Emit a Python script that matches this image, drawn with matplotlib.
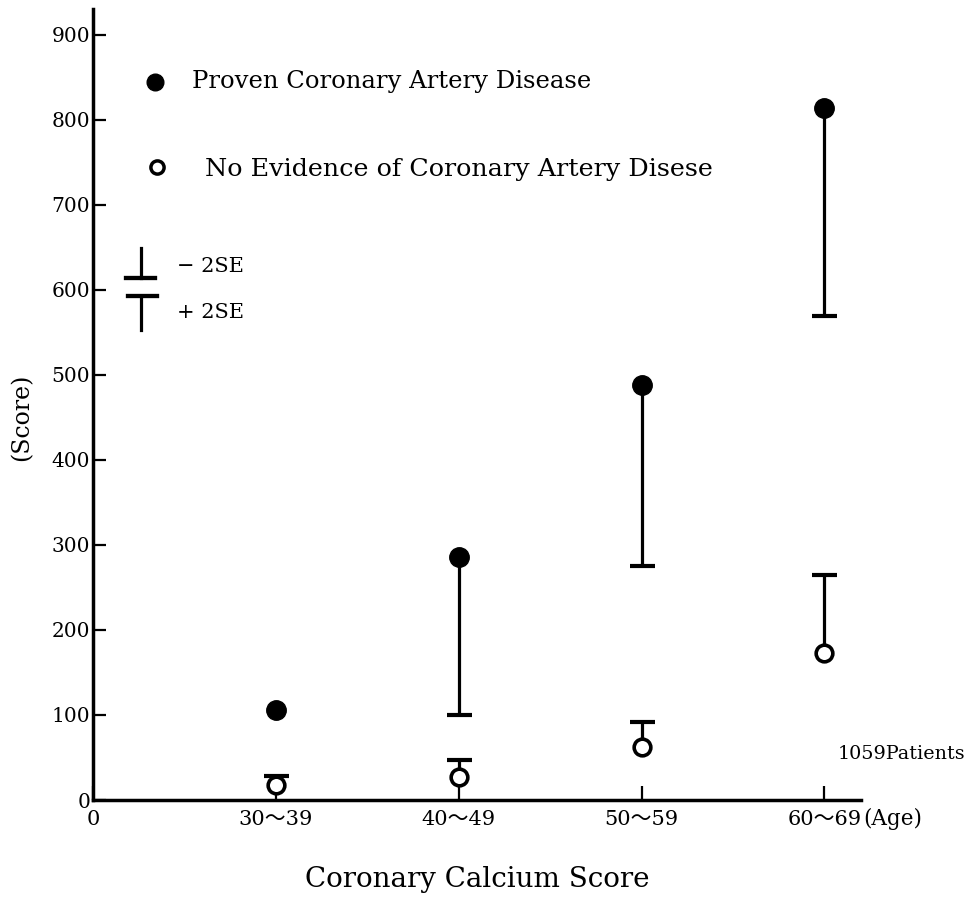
import matplotlib
matplotlib.use("Agg")
import matplotlib.pyplot as plt
from matplotlib.lines import Line2D

plt.rcParams['font.family'] = ['DejaVu Serif', 'Noto Sans CJK JP']

# ---- data ----
age_groups = ["30〜39", "40〜49", "50〜59", "60〜69"]
proven_mean = [106, 286, 488, 814]
proven_minus2se = [None, 100, 275, 569]
noev_mean = [18, 27, 62, 173]
noev_plus2se = [28, 47, 92, 264]
y_ticks = [0, 100, 200, 300, 400, 500, 600, 700, 800, 900]

fig = plt.figure(figsize=(9.74, 8.97), dpi=100)
ax = fig.add_axes([93/974, 1-800/897, (861-93)/974, (800-9)/897])

xs = list(range(1, len(age_groups) + 1))
lw = 2.3
cap_ms = 18
cap_mew = 3.0

# proven CAD: filled dots with -2SE bars (one-sided)
for x, m, lo in zip(xs, proven_mean, proven_minus2se):
    if lo is not None:
        ax.vlines(x, lo, m, color='black', lw=lw)
        ax.plot([x], [lo], marker='_', color='black', markersize=cap_ms, mew=cap_mew)
ax.plot(xs, proven_mean, 'o', color='black', markersize=14, zorder=5)

# no evidence: open circles with +2SE bars (one-sided)
for x, m, hi in zip(xs, noev_mean, noev_plus2se):
    ax.vlines(x, m, hi, color='black', lw=lw)
    ax.plot([x], [hi], marker='_', color='black', markersize=cap_ms, mew=cap_mew)
ax.plot(xs, noev_mean, 'o', markerfacecolor='white', markeredgecolor='black',
        markeredgewidth=2.6, markersize=12, zorder=5)

ax.set_xlim(0, 4.2)
ax.set_ylim(0, 930)
ax.set_xticks([0] + xs)
ax.set_xticklabels(["0"] + age_groups, fontsize=15)
ax.set_yticks(y_ticks)
ax.set_yticklabels([str(v) for v in y_ticks], fontsize=14.5)
ax.tick_params(axis='y', direction='in', length=9, width=1.6, pad=2)
ax.tick_params(axis='x', direction='in', length=10, width=1.6, pad=7)

for s in ['top', 'right']:
    ax.spines[s].set_visible(False)
for s in ['left', 'bottom']:
    ax.spines[s].set_linewidth(2.5)

ax.annotate("(Age)", xy=(4, 0), xycoords=('data', 'axes fraction'),
            xytext=(28, -6), textcoords='offset points', ha='left', va='top',
            fontsize=15.5)

ax.set_xlabel("Coronary Calcium Score", fontsize=20, labelpad=27)
ax.set_ylabel("(Score)", fontsize=17)
ax.yaxis.set_label_coords(-0.078, 0.484)

# legend
ax.plot([0.081], [0.908], 'o', color='black', markersize=12, transform=ax.transAxes, clip_on=False)
ax.text(0.129, 0.908, "Proven Coronary Artery Disease", transform=ax.transAxes,
        fontsize=17.5, va='center', ha='left')
ax.plot([0.083], [0.800], 'o', markerfacecolor='white', markeredgecolor='black',
        markeredgewidth=2.5, markersize=9.5, transform=ax.transAxes, clip_on=False)
ax.text(0.146, 0.797, "No Evidence of Coronary Artery Disese", transform=ax.transAxes,
        fontsize=18.3, va='center', ha='left')

# SE symbol
ax.add_line(Line2D([0.0625, 0.0625], [0.698, 0.660], color='black', lw=lw, transform=ax.transAxes))
ax.add_line(Line2D([0.043, 0.081], [0.660, 0.660], color='black', lw=lw + 0.8, transform=ax.transAxes))
ax.add_line(Line2D([0.045, 0.083], [0.637, 0.637], color='black', lw=lw + 0.8, transform=ax.transAxes))
ax.add_line(Line2D([0.0625, 0.0625], [0.637, 0.594], color='black', lw=lw, transform=ax.transAxes))
ax.text(0.109, 0.674, "− 2SE", transform=ax.transAxes, fontsize=15, va='center', ha='left')
ax.text(0.109, 0.616, "+ 2SE", transform=ax.transAxes, fontsize=15, va='center', ha='left')

ax.text(0.970, 0.058, "1059Patients", transform=ax.transAxes, fontsize=13.8,
        va='center', ha='left', clip_on=False)

fig.savefig("out.png", dpi=100)
